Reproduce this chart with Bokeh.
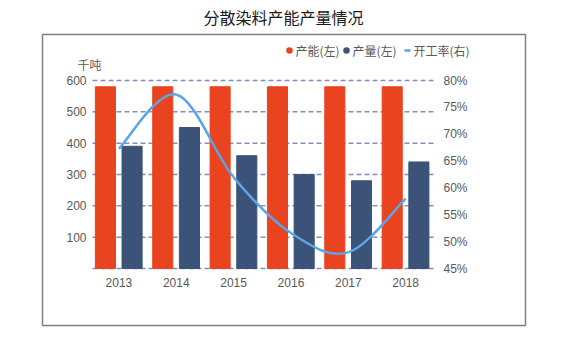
from bokeh.plotting import figure
from bokeh.models import (Range1d, LinearAxis, FixedTicker, PrintfTickFormatter,
                          ColumnDataSource)
from bokeh.core.properties import value
from bokeh.transform import dodge
from bokeh.embed import file_html
from bokeh.resources import INLINE

# ---------------- data ----------------
years = ["2013", "2014", "2015", "2016", "2017", "2018"]
capacity = [580, 580, 580, 580, 580, 580]      # 产能(左), 千吨
output = [390, 450, 360, 300, 280, 340]        # 产量(左), 千吨
rate = [67.3, 77.4, 62.0, 51.6, 48.0, 58.0]    # 开工率(右), %
left_ticks = [0, 100, 200, 300, 400, 500, 600]
right_ticks = [45, 50, 55, 60, 65, 70, 75, 80]

title_text = "分散染料产能产量情况"
unit_text = "千吨"
legend_names = ["产能(左)", "产量(左)", "开工率(右)"]

# ---------------- style / layout ----------------
RED = "#E9431F"
BLUE = "#3B5378"
LINE = "#5AA5E6"
GRID = "#8C8CBC"
TXT = "#595959"
CJK = "Noto Sans CJK SC"
NUM = "Liberation Sans"

W, H = 587, 339
FL, FR, FT, FB = 92, 435, 80, 268          # plot area in page pixels
XLO, XHI = -0.46, 5.52                      # category-index span of plot area
YLO, YHI = left_ticks[0], left_ticks[-1]
RLO, RHI = right_ticks[0], right_ticks[-1]

ux = (FR - FL) / (XHI - XLO)
uy = (FB - FT) / (YHI - YLO)
ur = (FB - FT) / (RHI - RLO)


def X(px):
    return XLO + (px - FL) / ux


def Y(py):
    return YLO + (FB - py) / uy


idx = list(range(len(years)))
src = ColumnDataSource(dict(x=idx, capacity=capacity, output=output))

p = figure(width=W, height=H, output_backend="svg", toolbar_location=None,
           title=None,
           x_range=Range1d(X(0), X(W)), y_range=Range1d(Y(H), Y(0)),
           min_border=0, min_border_left=0, min_border_right=0,
           min_border_top=0, min_border_bottom=0)
p.outline_line_color = None
p.background_fill_color = "white"
p.border_fill_color = "white"

p.extra_y_ranges = {"rate": Range1d(RLO - (H - FB) / ur, RHI + FT / ur)}

# axes (fixed at the plot-area edges)
p.xaxis.ticker = FixedTicker(ticks=idx)
p.xaxis.major_label_overrides = {i: y for i, y in zip(idx, years)}
p.xaxis.fixed_location = YLO
p.yaxis.ticker = FixedTicker(ticks=left_ticks[1:])
p.yaxis.fixed_location = XLO
ax_r = LinearAxis(y_range_name="rate", ticker=FixedTicker(ticks=right_ticks),
                  formatter=PrintfTickFormatter(format="%d%%"), fixed_location=XHI)
p.add_layout(ax_r, "right")

for ax in [p.xaxis[0], p.yaxis[0], ax_r]:
    ax.axis_line_color = None
    ax.major_tick_line_color = None
    ax.minor_tick_line_color = None
    ax.major_label_text_font = NUM
    ax.major_label_text_font_size = "12px"
    ax.major_label_text_color = TXT
p.xaxis.major_label_standoff = 3
p.yaxis.major_label_standoff = 0
ax_r.major_label_standoff = 2

p.xgrid.grid_line_color = None
p.ygrid.grid_line_color = None

# dashed horizontal grid lines across the plot area only
n_t = len(left_ticks)
p.segment(x0=[XLO] * n_t, x1=[XHI] * n_t, y0=left_ticks, y1=left_ticks,
          line_color=GRID, line_dash="5 3", line_width=1.5)

# bars
p.vbar(x=dodge("x", -0.235, range=p.x_range), top="capacity", width=0.35,
       source=src, color=RED)
p.vbar(x=dodge("x", 0.23, range=p.x_range), top="output", width=0.35,
       source=src, color=BLUE)

# smooth line (Catmull-Rom -> cubic Bezier, through every data point)
n = len(rate)
x0, y0, x1, y1, cx0, cy0, cx1, cy1 = [], [], [], [], [], [], [], []
for i in range(n - 1):
    im = max(i - 1, 0)
    ip2 = min(i + 2, n - 1)
    x0.append(idx[i]); y0.append(rate[i])
    x1.append(idx[i + 1]); y1.append(rate[i + 1])
    cx0.append(idx[i] + (idx[i + 1] - idx[im]) / 6.0)
    cy0.append(rate[i] + (rate[i + 1] - rate[im]) / 6.0)
    cx1.append(idx[i + 1] - (idx[ip2] - idx[i]) / 6.0)
    cy1.append(rate[i + 1] - (rate[ip2] - rate[i]) / 6.0)
p.bezier(x0=x0, y0=y0, x1=x1, y1=y1, cx0=cx0, cy0=cy0, cx1=cx1, cy1=cy1,
         y_range_name="rate", line_color=LINE, line_width=2.5)

# outer box
p.quad(left=[X(42)], right=[X(525)], top=[Y(34)], bottom=[Y(325)],
       fill_color=None, line_color="#7F7F7F", line_width=1.5)

# title
p.text(x=[X(283)], y=[Y(16)], text=[title_text], text_align="center",
       text_baseline="middle", text_font=value(CJK), text_font_size=value("16px"),
       text_color="#1A1A1A")
# unit
p.text(x=[X(77)], y=[Y(64)], text=[unit_text], text_align="left",
       text_baseline="middle", text_font=value(CJK), text_font_size=value("12px"),
       text_color=TXT)

# legend
p.scatter(x=[X(289), X(346)], y=[Y(50), Y(50)], size=6.5, marker="circle",
          fill_color=[RED, BLUE], line_color=None)
p.segment(x0=[X(404)], x1=[X(410)], y0=[Y(50)], y1=[Y(50)], line_color=LINE,
          line_width=2.5)
p.text(x=[X(295), X(352), X(413)], y=[Y(50)] * 3, text=legend_names,
       text_align="left", text_baseline="middle", text_font=value(CJK),
       text_font_size=value("12px"), text_color=TXT)

open("out.html", "w").write(file_html(p, INLINE))
